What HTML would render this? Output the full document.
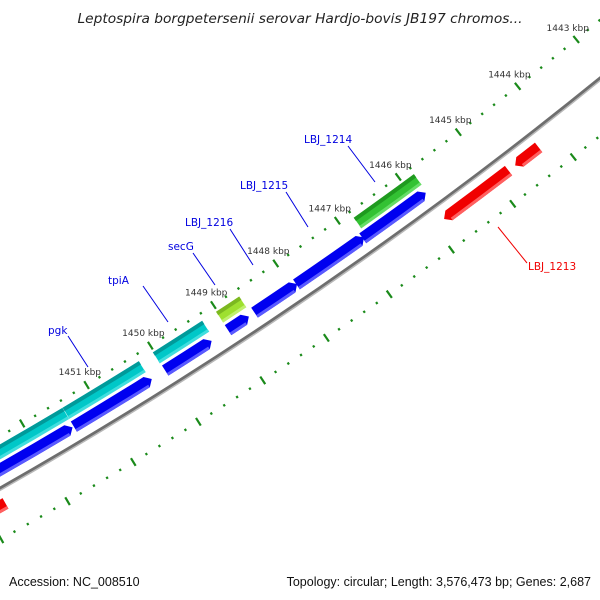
<!DOCTYPE html>
<html><head><meta charset="utf-8">
<style>
html,body{margin:0;padding:0;background:#fff;}
svg{display:block;font-family:"Liberation Sans",sans-serif;}
</style></head>
<body>
<svg id="map" width="600" height="600" viewBox="0 0 600 600" xmlns="http://www.w3.org/2000/svg">
<rect x="0" y="0" width="600" height="600" fill="#fff"/>
<text x="300" y="23" text-anchor="middle" font-size="13" font-style="italic" fill="#222" style="font-family:'DejaVu Sans',sans-serif" textLength="445" lengthAdjust="spacingAndGlyphs">Leptospira borgpetersenii serovar Hardjo-bovis JB197 chromos...</text>
<g id="ticks"></g>
<g id="backbone"></g>
<g id="features"></g>
<g id="labels"></g>
<text x="9" y="586" font-size="12.5" fill="#111">Accession: NC_008510</text>
<text x="591" y="586" text-anchor="end" font-size="12.5" fill="#111">Topology: circular; Length: 3,576,473 bp; Genes: 2,687</text>
</svg>
<script>
// data (kbp)
const tickKbp = [1443,1444,1445,1446,1447,1448,1449,1450,1451];
const minorStepKbp = 0.2;
const blueStarts = [1452.8,1451.43,1450.01,1449.02,1448.60,1447.93,1446.86];
const blueEnds   = [1451.45,1450.22,1449.28,1448.69,1447.92,1446.84,1445.83];
const outerStarts = [1453.3,1451.43,1450.02,1449.02,1446.80];
const outerEnds   = [1451.43,1450.24,1449.24,1448.65,1445.81];
const outerKinds  = ['cyan','cyan','cyan','lime','green'];
const redStarts = [1444.78,1444.28,1452.72];
const redEnds   = [1445.84,1444.67,1454.0];

const NS='http://www.w3.org/2000/svg';
const CX=-2165, CY=-3324, R=4384;
function ang(kb){return (52.8+(kb-1445)*0.99)*Math.PI/180;}
function pt(kb,r){const a=ang(kb);return [CX+r*Math.cos(a),CY+r*Math.sin(a)];}
function f(p){return p[0].toFixed(2)+' '+p[1].toFixed(2);}
function arc(kbA,kbB,r){const sw=ang(kbB)>ang(kbA)?1:0;return 'A '+r+' '+r+' 0 0 '+sw+' '+f(pt(kbB,r));}
function band(a,b,r1,r2){return 'M '+f(pt(a,r1))+' '+arc(a,b,r1)+' L '+f(pt(b,r2))+' '+arc(b,a,r2)+' Z';}
function arrow(a,b,r1,r2){
  const head=6/((r1+r2)/2)*180/Math.PI/0.99;
  const bb=b+(a>b?head:-head);
  const rm=(r1+r2)/2;
  return 'M '+f(pt(a,r1))+' '+arc(a,bb,r1)+' L '+f(pt(b,rm))+' L '+f(pt(bb,r2))+' '+arc(bb,a,r2)+' Z';
}
function mk(tag,attrs,parent){const e=document.createElementNS(NS,tag);for(const k in attrs)e.setAttribute(k,attrs[k]);parent.appendChild(e);return e;}

// ticks
const tg=document.getElementById('ticks');
const kmin=1442, kmax=1455;
for(let i=0;kmin+i*minorStepKbp<=kmax;i++){
  const kb=+(kmin+i*minorStepKbp).toFixed(2);
  const major=Math.abs(kb-Math.round(kb))<1e-6;
  const len=major?9:2.4;
  [R-45,R+45].forEach(rc=>{
    const p1=pt(kb,rc-len/2), p2=pt(kb,rc+len/2);
    const l=mk('line',{x1:p1[0],y1:p1[1],x2:p2[0],y2:p2[1],stroke:'#1a8a1a','stroke-width':2.2},tg);
    
    
  });
}
tickKbp.forEach(kb=>{
  const p=pt(kb,R-60);
  const t=mk('text',{x:p[0]+1,y:p[1]+3,'text-anchor':'middle','font-size':'9',fill:'#333',style:"font-family:'DejaVu Sans',sans-serif"},tg);
  t.textContent=kb+' kbp';
  
  
});

// backbone
const bg=document.getElementById('backbone');
const bk1=mk('path',{d:'M '+f(pt(1456,R))+' '+arc(1456,1441,R),fill:'none',stroke:'#6e6e6e','stroke-width':'3'},bg);


const bk2=mk('path',{d:'M '+f(pt(1456,R+2))+' '+arc(1456,1441,R+2),fill:'none',stroke:'#b8b8b8','stroke-width':'1.5'},bg);



// features
const fg=document.getElementById('features');
blueStarts.forEach((s,i)=>{
  const e=blueEnds[i];
  const p=mk('path',{d:arrow(s,e,R-22,R-10),fill:'#0000f0'},fg);
  
  
  const h=mk('path',{d:band(s,e+(s>e?0.08:-0.08),R-13,R-10),fill:'#5a5aff'},fg);
  
  
});
const outerCol={cyan:['#00c8c8','#009a9a','#40dede'],lime:['#9ee030','#7cb820','#c0f070'],green:['#33c233','#1f9a1f','#66dd66']};
outerStarts.forEach((s,i)=>{
  const e=outerEnds[i], c=outerCol[outerKinds[i]];
  const p=mk('path',{d:band(s,e,R-38,R-25),fill:c[0],stroke:'#ffffff','stroke-width':'0.4'},fg);
  
  
  const d=mk('path',{d:band(s,e,R-38,R-34),fill:c[1]},fg);
  
  
  const l=mk('path',{d:band(s,e,R-28,R-25),fill:c[2]},fg);
  
  
});
redStarts.forEach((s,i)=>{
  const e=redEnds[i];
  const p=mk('path',{d:arrow(s,e,R+10,R+22),fill:'#f00000'},fg);
  
  
  const h=mk('path',{d:band(s,e-0.08,R+19,R+22),fill:'#ff6060'},fg);
  
  
});

// gene labels
const lg=document.getElementById('labels');
const labels=[
 ['pgk',48,334,68,336,88,367,'#0000e0'],
 ['tpiA',108,284,143,286,168,322,'#0000e0'],
 ['secG',168,250,193,253,215,285,'#0000e0'],
 ['LBJ_1216',185,226,230,229,253,265,'#0000e0'],
 ['LBJ_1215',240,189,286,192,308,227,'#0000e0'],
 ['LBJ_1214',304,143,348,146,375,182,'#0000e0'],
 ['LBJ_1213',528,270,527,263,498,227,'#f00000']
];
labels.forEach(L=>{
  const ln=mk('line',{x1:L[3],y1:L[4],x2:L[5],y2:L[6],stroke:L[7],'stroke-width':'1'},lg);
  
  
  const t=mk('text',{x:L[1],y:L[2],'font-size':'10.5',fill:L[7],style:"font-family:'DejaVu Sans',sans-serif"},lg);
  t.textContent=L[0];
  
  
});
</script>
</body></html>
